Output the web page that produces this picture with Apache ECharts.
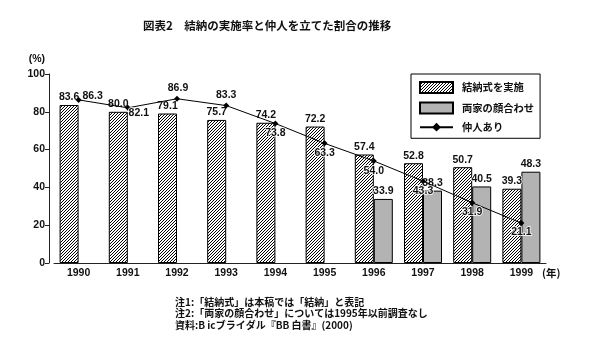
<!DOCTYPE html>
<html>
<head>
<meta charset="utf-8">
<script src="https://cdn.jsdelivr.net/npm/echarts@6/dist/echarts.min.js"></script>
<style>html,body{margin:0;padding:0;background:#fff}#c{width:591px;height:340px}</style>
</head>
<body>
<div id="c"></div>
<script>
var years = ['1990','1991','1992','1993','1994','1995','1996','1997','1998','1999'];
var ceremony = [83.6, 80.0, 79.1, 75.7, 74.2, 72.2, 57.4, 52.8, 50.7, 39.3];
var meeting = [null, null, null, null, null, null, 33.9, 38.3, 40.5, 48.3];
var nakodo = [86.3, 82.1, 86.9, 83.3, 73.8, 63.3, 54.0, 43.3, 31.9, 21.1];
var yTicks = [0, 20, 40, 60, 80, 100];
var seriesNames = ['結納式を実施', '両家の顔合わせ', '仲人あり'];

var NUM = '"Liberation Sans", Arial, sans-serif';
var CJK = '"Noto Sans CJK JP", "Noto Sans", sans-serif';

// hatch pattern
var cv = document.createElement('canvas');
cv.width = 12; cv.height = 12;
var cx = cv.getContext('2d');
cx.fillStyle = '#fff'; cx.fillRect(0,0,12,12);
cx.strokeStyle = '#000'; cx.lineWidth = 1.0;
for (var c = -3; c <= 27; c += 3) { cx.beginPath(); cx.moveTo(c, 0); cx.lineTo(c - 12, 12); cx.stroke(); }
var hatch = {image: cv, repeat: 'repeat'};

var lineOffsets = [[14,-4],[11,5.5],[1,-11],[0,-10.5],[0,10],[0,10],[0,10],[0,10],[0,9],[0,9]];
var fmt = function(p){ return (+p.value).toFixed(1); };
var labelBase = {show: true, fontFamily: NUM, fontWeight: 'bold', fontSize: 10.5, color: '#111', textBorderColor: '#fff', textBorderWidth: 1.5, formatter: fmt};

var chart = echarts.init(document.getElementById('c'), null, {renderer: 'canvas'});
chart.setOption({
  animation: false,
  backgroundColor: '#fff',
  title: {text: '図表2　結納の実施率と仲人を立てた割合の推移', left: 143, top: 20, padding: 0,
    textStyle: {fontFamily: CJK, fontSize: 11.5, fontWeight: 'bold', color: '#111'}},
  grid: {left: 54, right: 45, top: 74, bottom: 77},
  legend: {
    orient: 'vertical', left: 411, top: 74, padding: [7, 6, 6, 8], itemGap: 7.5,
    itemWidth: 33, itemHeight: 11, borderColor: '#000', borderWidth: 1,
    textStyle: {fontFamily: CJK, fontSize: 10.3, fontWeight: 'bold', color: '#111', padding: [0,0,0,4]},
    data: [{name: seriesNames[0], icon: 'rect'}, {name: seriesNames[1], icon: 'rect'}, {name: seriesNames[2]}]
  },
  xAxis: {
    type: 'category', data: years,
    name: '(年)', nameLocation: 'end', nameGap: -4,
    nameTextStyle: {fontFamily: CJK, fontSize: 10.5, fontWeight: 'bold', color: '#111', verticalAlign: 'top', padding: [5,0,0,0]},
    axisLine: {lineStyle: {color: '#222', width: 1}},
    axisTick: {show: false},
    axisLabel: {margin: 5, fontFamily: NUM, fontSize: 10.5, fontWeight: 'bold', color: '#111'}
  },
  yAxis: {
    type: 'value', min: yTicks[0], max: yTicks[yTicks.length-1], interval: yTicks[1]-yTicks[0], offset: 5,
    name: '(%)', nameLocation: 'end', nameGap: 9,
    nameTextStyle: {fontFamily: NUM, fontSize: 10.5, fontWeight: 'bold', color: '#111', align: 'right', padding: [0,4,0,0]},
    axisLine: {show: true, lineStyle: {color: '#222', width: 1}},
    axisTick: {show: true, length: 4, lineStyle: {color: '#222'}},
    splitLine: {show: false},
    axisLabel: {margin: 4, fontFamily: NUM, fontSize: 10.5, fontWeight: 'bold', color: '#111'}
  },
  series: [
    {name: seriesNames[0], type: 'bar', data: ceremony, barWidth: 19, barGap: '0%',
     itemStyle: {color: hatch, borderColor: '#000', borderWidth: 1},
     label: Object.assign({}, labelBase, {position: 'top', distance: 2})},
    {name: seriesNames[1], type: 'bar', data: meeting, barWidth: 19, barGap: '0%',
     itemStyle: {color: '#b3b3b3', borderColor: '#000', borderWidth: 1},
     label: Object.assign({}, labelBase, {position: 'top', distance: 2})},
    {name: seriesNames[2], type: 'line', z: 5,
     data: nakodo.map(function(v, i){ return {value: v, label: {offset: lineOffsets[i]}}; }),
     symbol: 'diamond', symbolSize: 6, color: '#000',
     lineStyle: {color: '#000', width: 1}, itemStyle: {color: '#000'},
     label: Object.assign({}, labelBase, {position: 'inside'})}
  ],
  graphic: [{
    type: 'text', left: 175, top: 296,
    style: {text: '注1:「結納式」は本稿では「結納」と表記\n注2:「両家の顔合わせ」については1995年以前調査なし\n資料:B icブライダル『BB 白書』(2000)',
      fontFamily: CJK, fontSize: 10, fontWeight: 'bold', lineHeight: 11.5, fill: '#111'}
  }]
});
</script>
</body>
</html>
